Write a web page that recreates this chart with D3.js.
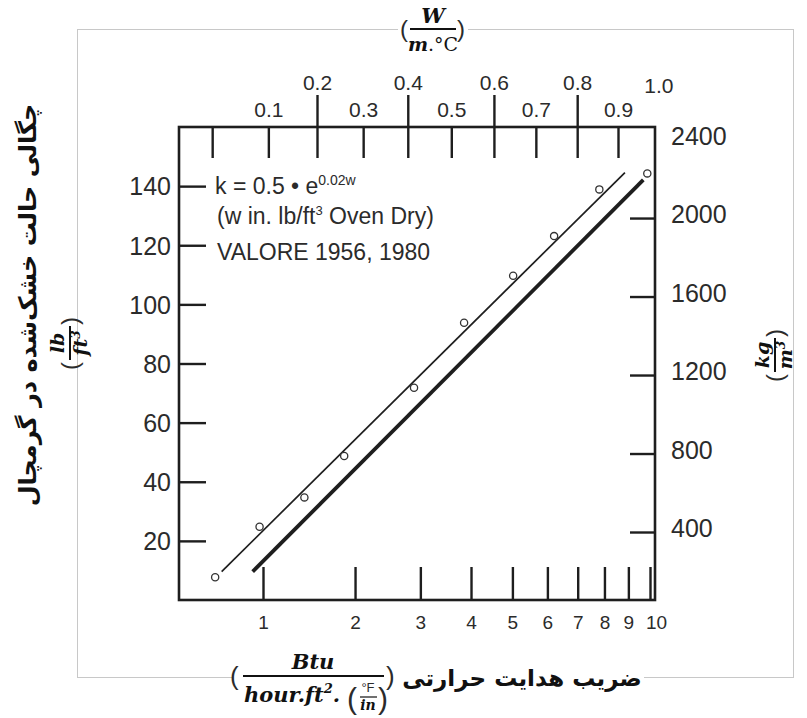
<!DOCTYPE html>
<html>
<head>
<meta charset="utf-8">
<script src="https://cdn.jsdelivr.net/npm/d3@7"></script>
<style>
  body { margin: 0; background: #fff; }
  svg text { font-family: "Liberation Sans", Arial, sans-serif; fill: #2b2b2b; }
  .serif { font-family: "DejaVu Serif", serif; font-weight: bold; font-style: italic; fill: #111; }
  .fa { font-family: "DejaVu Sans", sans-serif; font-weight: bold; fill: #111; }
</style>
</head>
<body>
<div id="chart"></div>
<script>
// tick values
const kTicks = [1, 2, 3, 4, 5, 6, 7, 8, 9, 10]
const wTicks = [0, 0.1, 0.2, 0.3, 0.4, 0.5, 0.6, 0.7, 0.8, 0.9, 1.0]
const lbTicks = [20, 40, 60, 80, 100, 120, 140]
const kgTicks = [400, 800, 1200, 1600, 2000, 2400]

// measured points (k in Btu.in/hr.ft2.F, density in lb/ft3)
const pointK = [0.62, 0.97, 1.40, 1.86, 2.89, 3.85, 5.02, 6.21, 7.80, 9.87]
const pointDensity = [7.7, 24.8, 34.7, 48.7, 71.8, 93.8, 109.7, 123.1, 138.9, 144.3]

// thin line through the points, thick line of the equation
const thinK = [0.667, 8.85]
const thinDensity = [9.6, 144.6]
const boldK = [0.911, 9.68]
const boldDensity = [9.6, 142.1]

const width = 476
const height = 473
const margin = { top: 127, left: 179 }

const svg = d3.select('#chart').append('svg').attr('width', 807).attr('height', 718)
svg.append('rect').attr('width', 807).attr('height', 718).attr('fill', '#fff')

// light outer box
svg.append('rect')
  .attr('x', 77.5).attr('y', 29.5).attr('width', 716).attr('height', 648)
  .attr('fill', 'none').attr('stroke', '#c8c8c8').attr('stroke-width', 1)

const g = svg.append('g').attr('transform', `translate(${margin.left},${margin.top})`)

// scales
const xScale = d3.scaleSymlog().constant(1).domain([1, 10]).range([84, 471])
const wScale = d3.scalePow().exponent(0.9).domain([0.2, 0.9]).range([138, 439])
const yScale = d3.scaleLinear().domain([0, 160]).range([height, 0])
const kgScale = d3.scaleLinear().domain([53.5, 2464]).range([height, 0])

const ink = '#1e1e1e'

// bottom axis
const bottomAxis = g.append('g')
  .attr('transform', `translate(0,${height})`)
  .call(d3.axisBottom(xScale).tickValues(kTicks).tickSizeInner(-33).tickSizeOuter(0).tickFormat(d3.format('d')))
bottomAxis.select('.domain').remove()
bottomAxis.selectAll('.tick line').attr('stroke', ink).attr('stroke-width', 2.4)
bottomAxis.selectAll('.tick text')
  .attr('y', 22).attr('dy', '0.35em').attr('font-size', 19)
  .attr('dx', d => (d === 10 ? 6 : 0))

// top axis
const isLong = d => d > 0 && d < 1 && Math.round(d * 10) % 2 === 0
const topAxis = g.append('g')
  .call(d3.axisTop(wScale).tickValues(wTicks).tickSizeInner(-31).tickSizeOuter(0)
    .tickFormat(d => (d === 0 ? '' : d3.format('.1f')(d))))
topAxis.select('.domain').remove()
topAxis.selectAll('.tick line')
  .attr('stroke', ink).attr('stroke-width', 2.4)
  .attr('y1', d => (isLong(d) ? -32 : 0))
  .attr('display', d => (d >= 1 ? 'none' : null))
topAxis.selectAll('.tick text')
  .attr('y', d => (isLong(d) ? -44 : d >= 1 ? -41 : -17))
  .attr('dy', '0.35em').attr('font-size', 21)

// left axis
const leftAxis = g.append('g')
  .call(d3.axisLeft(yScale).tickValues(lbTicks).tickSizeInner(-27).tickSizeOuter(0))
leftAxis.select('.domain').remove()
leftAxis.selectAll('.tick line').attr('stroke', ink).attr('stroke-width', 2.4)
leftAxis.selectAll('.tick text').attr('x', -8).attr('dy', '0.35em').attr('font-size', 25)

// right axis
const rightAxis = g.append('g')
  .attr('transform', `translate(${width},0)`)
  .call(d3.axisRight(kgScale).tickValues(kgTicks).tickSizeInner(-25).tickSizeOuter(0).tickFormat(d3.format('d')))
rightAxis.select('.domain').remove()
rightAxis.selectAll('.tick line')
  .attr('stroke', ink).attr('stroke-width', 2.4)
  .attr('display', d => (d === 2400 ? 'none' : null))
rightAxis.selectAll('.tick text').attr('x', 16).attr('y', -4).attr('dy', '0.35em').attr('font-size', 25)

// frame
g.append('rect')
  .attr('width', width).attr('height', height)
  .attr('fill', 'none').attr('stroke', ink).attr('stroke-width', 2.6)

// lines
const line = d3.line().x(d => xScale(d[0])).y(d => yScale(d[1]))
g.append('path').datum(d3.zip(thinK, thinDensity)).attr('d', line)
  .attr('fill', 'none').attr('stroke', ink).attr('stroke-width', 1.7)
g.append('path').datum(d3.zip(boldK, boldDensity)).attr('d', line)
  .attr('fill', 'none').attr('stroke', ink).attr('stroke-width', 3.8)

// points
g.selectAll('.pt')
  .data(d3.zip(pointK, pointDensity))
  .enter()
  .append('circle')
  .attr('class', 'pt')
  .attr('cx', d => xScale(d[0]))
  .attr('cy', d => yScale(d[1]))
  .attr('r', 3.6)
  .attr('fill', '#fff').attr('stroke', '#333').attr('stroke-width', 1.3)

// note
const note = g.append('g').attr('font-size', 23)
const n1 = note.append('text').attr('x', 36).attr('y', 67)
n1.append('tspan').text('k = 0.5 \u2022 e')
n1.append('tspan').attr('dy', -9).attr('font-size', 14).text('0.02w')
const n2 = note.append('text').attr('x', 38).attr('y', 97)
n2.append('tspan').text('(w in. lb/ft')
n2.append('tspan').attr('dy', -9).attr('font-size', 13).text('3')
n2.append('tspan').attr('dy', 9).text(' Oven Dry)')
note.append('text').attr('x', 38).attr('y', 133).text('VALORE 1956, 1980')

// top title (W / m.°C)
svg.append('rect').attr('x', 398).attr('y', 24).attr('width', 70).attr('height', 12).attr('fill', '#fff')
const tt = svg.append('g').attr('transform', 'translate(433,29)')
tt.append('text').attr('class', 'serif').attr('text-anchor', 'middle').attr('y', -6).attr('font-size', 21).text('W')
tt.append('line').attr('x1', -23).attr('x2', 23).attr('stroke', '#111').attr('stroke-width', 2)
const tden = tt.append('text').attr('text-anchor', 'middle').attr('y', 22).attr('font-size', 19)
tden.append('tspan').attr('class', 'serif').text('m')
tden.append('tspan').attr('font-family', 'DejaVu Serif').attr('fill', '#111').text('.\u00b0C')
tt.append('text').attr('font-family', 'DejaVu Serif').attr('fill', '#111').attr('font-size', 24).attr('x', -33).attr('y', 8).text('(')
tt.append('text').attr('font-family', 'DejaVu Serif').attr('fill', '#111').attr('font-size', 24).attr('x', 24).attr('y', 8).text(')')

// bottom title
svg.append('rect').attr('x', 232).attr('y', 670).attr('width', 412).attr('height', 14).attr('fill', '#fff')
const bt = svg.append('g').attr('transform', 'translate(0,676)')
bt.append('text').attr('class', 'serif').attr('text-anchor', 'middle').attr('x', 313).attr('y', -7).attr('font-size', 21).text('Btu')
bt.append('line').attr('x1', 243).attr('x2', 384).attr('stroke', '#111').attr('stroke-width', 2)
const bden = bt.append('text').attr('class', 'serif').attr('x', 244).attr('y', 26).attr('font-size', 21)
bden.append('tspan').text('hour.ft')
bden.append('tspan').attr('dy', -9).attr('font-size', 13).text('2')
bden.append('tspan').attr('dy', 9).text('.')
bt.append('text').attr('font-family', 'DejaVu Serif').attr('fill', '#111').attr('font-size', 30).attr('x', 347).attr('y', 33).text('(')
bt.append('text').attr('font-family', 'DejaVu Serif').attr('fill', '#111').attr('font-size', 13).attr('text-anchor', 'middle').attr('x', 368).attr('y', 16).text('\u00b0F')
bt.append('line').attr('x1', 360).attr('x2', 377).attr('y1', 21).attr('y2', 21).attr('stroke', '#111').attr('stroke-width', 1.2)
bt.append('text').attr('class', 'serif').attr('font-size', 14).attr('text-anchor', 'middle').attr('x', 368).attr('y', 34).text('in')
bt.append('text').attr('font-family', 'DejaVu Serif').attr('fill', '#111').attr('font-size', 30).attr('x', 378).attr('y', 33).text(')')
bt.append('text').attr('font-family', 'DejaVu Serif').attr('fill', '#111').attr('font-size', 26).attr('x', 230).attr('y', 9).text('(')
bt.append('text').attr('font-family', 'DejaVu Serif').attr('fill', '#111').attr('font-size', 26).attr('x', 386).attr('y', 9).text(')')
bt.append('text').attr('class', 'fa').attr('text-anchor', 'middle').attr('x', 522).attr('y', 10).attr('font-size', 23)
  .text('ضریب هدایت حرارتی')

// left title
const lt = svg.append('g').attr('transform', 'translate(27,305) rotate(-90)')
lt.append('text').attr('class', 'fa').attr('text-anchor', 'middle').attr('y', 9).attr('font-size', 24)
  .text('چگالی حالت خشک\u200cشده در گرمچال')
const lf = svg.append('g').attr('transform', 'translate(70,343) rotate(-90)')
lf.append('text').attr('class', 'serif').attr('text-anchor', 'middle').attr('y', -6).attr('font-size', 19).text('lb')
lf.append('line').attr('x1', -17).attr('x2', 17).attr('stroke', '#111').attr('stroke-width', 2)
const lden = lf.append('text').attr('class', 'serif').attr('text-anchor', 'middle').attr('y', 17).attr('font-size', 19)
lden.append('tspan').text('ft')
lden.append('tspan').attr('dy', -7).attr('font-size', 12).text('3')
lf.append('text').attr('font-family', 'DejaVu Serif').attr('fill', '#111').attr('font-size', 24).attr('x', -27).attr('y', 8).text('(')
lf.append('text').attr('font-family', 'DejaVu Serif').attr('fill', '#111').attr('font-size', 24).attr('x', 18).attr('y', 8).text(')')

// right title
const rt = svg.append('g').attr('transform', 'translate(775,355) rotate(-90)')
rt.append('text').attr('class', 'serif').attr('text-anchor', 'middle').attr('y', -6).attr('font-size', 19).text('kg')
rt.append('line').attr('x1', -17).attr('x2', 17).attr('stroke', '#111').attr('stroke-width', 2)
const rden = rt.append('text').attr('class', 'serif').attr('text-anchor', 'middle').attr('y', 17).attr('font-size', 19)
rden.append('tspan').text('m')
rden.append('tspan').attr('dy', -7).attr('font-size', 12).text('3')
rt.append('text').attr('font-family', 'DejaVu Serif').attr('fill', '#111').attr('font-size', 24).attr('x', -27).attr('y', 8).text('(')
rt.append('text').attr('font-family', 'DejaVu Serif').attr('fill', '#111').attr('font-size', 24).attr('x', 18).attr('y', 8).text(')')
</script>
</body>
</html>
